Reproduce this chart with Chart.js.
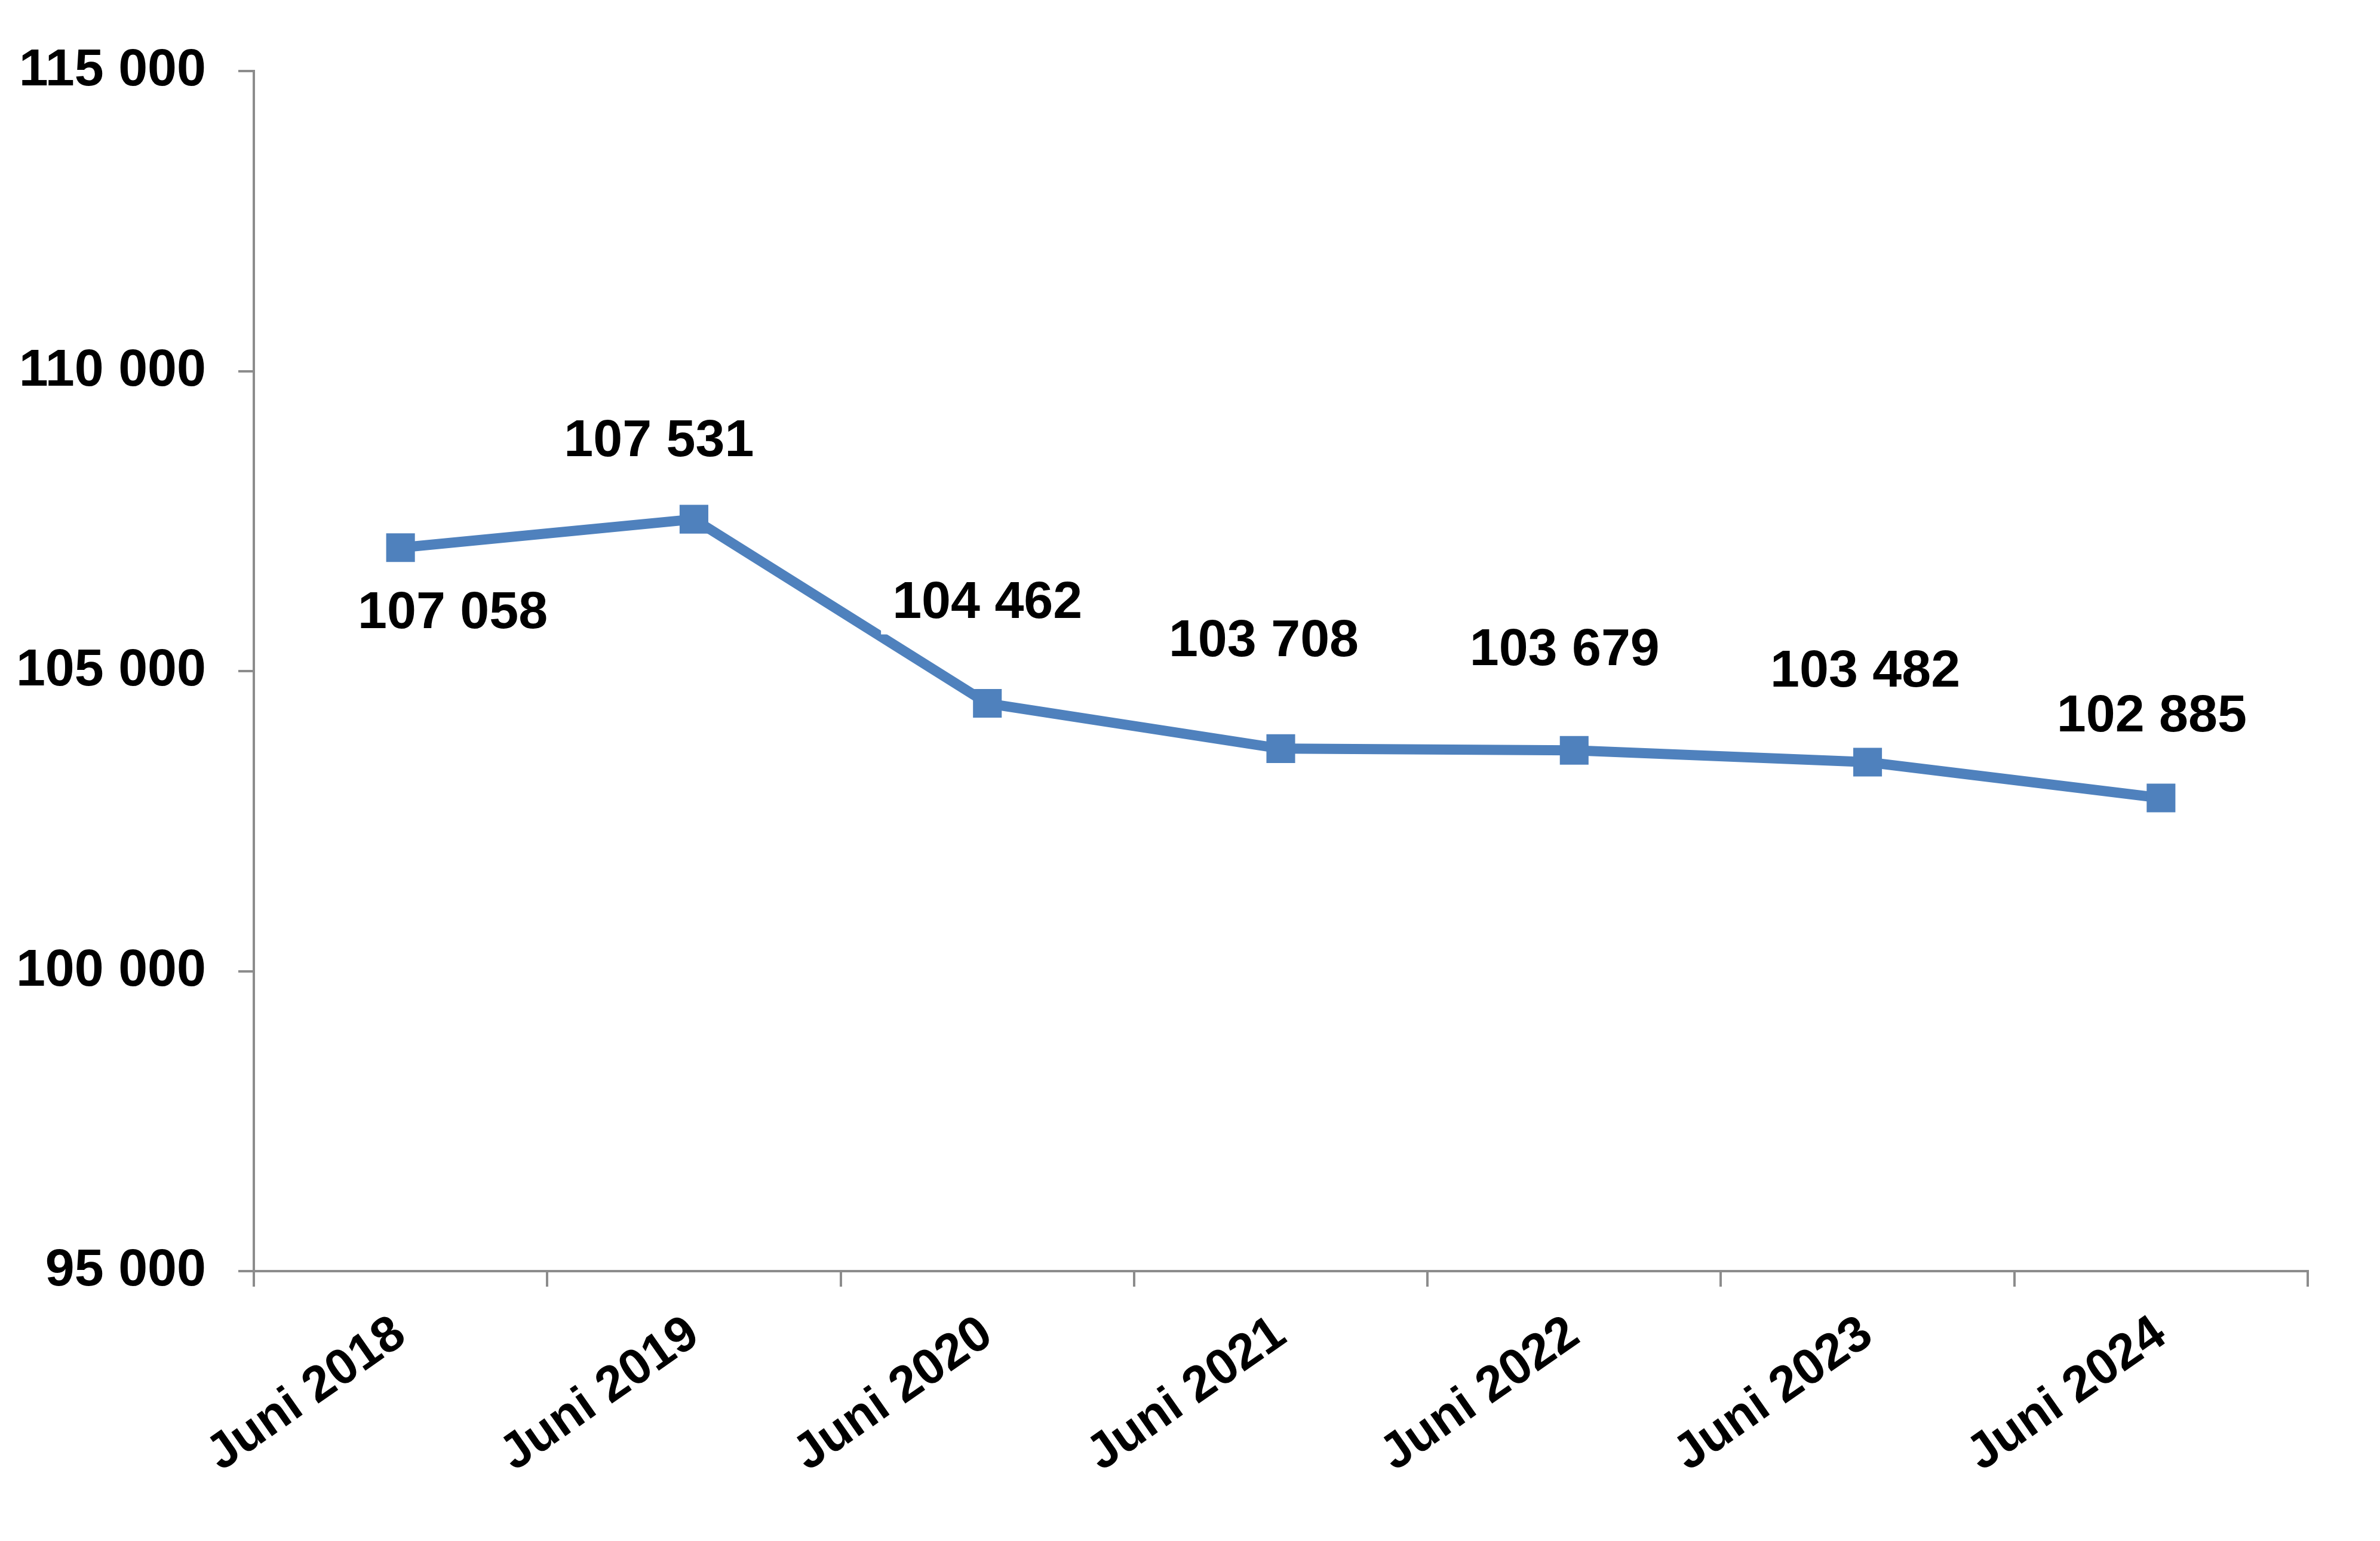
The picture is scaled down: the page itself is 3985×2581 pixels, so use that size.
<!DOCTYPE html>
<html><head><meta charset="utf-8">
<script src="https://cdn.jsdelivr.net/npm/chart.js@4.4.1/dist/chart.umd.min.js"></script>
<style>html,body{margin:0;padding:0;background:#fff;}#wrap{width:3985px;height:2581px;}</style>
</head><body><div id="wrap"><canvas id="c" width="3985" height="2581"></canvas></div>
<script>
const categories = ['Juni 2018','Juni 2019','Juni 2020','Juni 2021','Juni 2022','Juni 2023','Juni 2024'];
const values = [107058,107531,104462,103708,103679,103482,102885];
const yTicks = [95000,100000,105000,110000,115000];
// label placement relative to each point (style, px)
const labelOffsets = [[89,104],[-57,-136],[1,-174],[-27,-185],[-15,-173],[-3,-157],[-14,-142]];

const fmt = v => String(v).replace(/\B(?=(\d{3})+(?!\d))/g,' ');
const FONT = 'Liberation Sans, Arial, sans-serif';
const AXIS = '#8c8c8c';

const labelPlugin = {
  id:'vlabels',
  afterDatasetsDraw(chart){
    const ctx = chart.ctx;
    const meta = chart.getDatasetMeta(0);
    ctx.save();
    ctx.font = 'bold 88px ' + FONT;
    ctx.textAlign = 'left';
    ctx.textBaseline = 'alphabetic';
    meta.data.forEach((pt,i)=>{
      const t = fmt(values[i]);
      const cx = pt.x + labelOffsets[i][0];
      const cy = pt.y + labelOffsets[i][1];
      const m = ctx.measureText(t);
      const inkW = m.actualBoundingBoxRight + m.actualBoundingBoxLeft;
      const asc = m.actualBoundingBoxAscent;
      const x = cx - inkW/2 + m.actualBoundingBoxLeft;
      const y = cy + asc/2;
      ctx.fillStyle = '#fff';
      ctx.fillRect(cx - inkW/2 - 24, cy - asc/2 - 28, inkW + 48, asc + 56);
      ctx.fillStyle = '#000';
      ctx.fillText(t, x, y);
    });
    ctx.restore();
  }
};

new Chart(document.getElementById('c'), {
  type:'line',
  data:{labels:categories, datasets:[{
    data:values, borderColor:'#4F81BD', backgroundColor:'#4F81BD', borderWidth:17,
    pointStyle:'rect', pointRadius:34, pointHoverRadius:34, pointBorderWidth:0, tension:0, fill:false
  }]},
  options:{
    responsive:false, devicePixelRatio:1, animation:false,
    layout:{padding:{top:119,right:121,bottom:0,left:0}},
    plugins:{legend:{display:false}, tooltip:{enabled:false}},
    scales:{
      x:{type:'category', offset:true,
        grid:{offset:true, drawOnChartArea:false, drawTicks:true, tickLength:26, color:AXIS, lineWidth:4},
        border:{display:true, color:AXIS, width:4},
        ticks:{color:'#000', font:{family:FONT, size:84, weight:'bold'}, minRotation:35, maxRotation:35, padding:30, autoSkip:false},
        afterFit(s){ s.height = 2581 - 2129; }
      },
      y:{min:95000, max:115000,
        afterBuildTicks(s){ s.ticks = yTicks.map(v=>({value:v})); },
        grid:{drawOnChartArea:false, drawTicks:true, tickLength:26, color:AXIS, lineWidth:4},
        border:{display:true, color:AXIS, width:4},
        ticks:{color:'#000', font:{family:FONT, size:88, weight:'bold'}, padding:54, callback:v=>fmt(v)},
        afterFit(s){ s.width = 425; }
      }
    }
  },
  plugins:[labelPlugin]
});
</script></body></html>
